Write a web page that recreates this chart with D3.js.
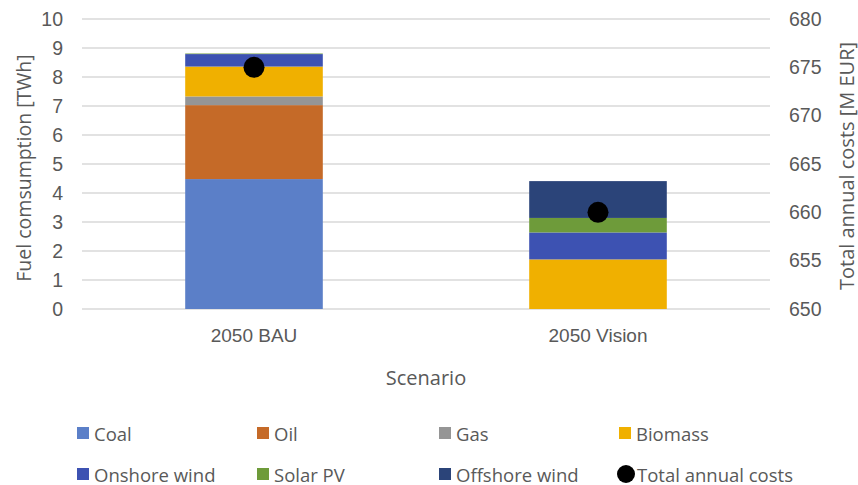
<!DOCTYPE html>
<html>
<head>
<meta charset="utf-8">
<script src="https://cdn.jsdelivr.net/npm/d3@7"></script>
<style>
  html, body { margin: 0; padding: 0; background: #fff; }
  svg { display: block; font-family: "Open Sans", "Noto Sans", sans-serif; }
</style>
</head>
<body>
<svg id="chart" width="858" height="485"></svg>
<script>
// Scenarios on the x axis
const scenarios = ["2050 BAU", "2050 Vision"];

// Fuel consumption per source [TWh], one value per scenario
const fuels = ["Coal", "Oil", "Gas", "Biomass", "Onshore wind", "Solar PV", "Offshore wind"];
const coal = [4.48, 0];
const oil = [2.55, 0];
const gas = [0.30, 0];
const biomass = [1.03, 1.71];
const onshoreWind = [0.43, 0.93];
const solarPV = [0.02, 0.50];
const offshoreWind = [0, 1.27];

// Total annual costs [M EUR] on the secondary axis
const totalCosts = [675, 660];

// Axis ticks
const leftTicks = [0, 1, 2, 3, 4, 5, 6, 7, 8, 9, 10];
const rightTicks = [650, 655, 660, 665, 670, 675, 680];

const fuelColors = ["#5b7fc8", "#c56a28", "#959595", "#f0b000", "#3d52b2", "#6e9b3a", "#2b4479"];

const seriesValues = [coal, oil, gas, biomass, onshoreWind, solarPV, offshoreWind];
const rows = scenarios.map((s, i) => {
  const r = { scenario: s };
  fuels.forEach((f, k) => { r[f] = seriesValues[k][i]; });
  return r;
});

const svg = d3.select("#chart");
const m = { left: 82, right: 770, top: 19, bottom: 309 };

const x = d3.scaleBand().domain(scenarios).range([m.left, m.right])
  .paddingInner(0.6).paddingOuter(0.3);
const y = d3.scaleLinear().domain([0, 10]).range([m.bottom, m.top]);
const y2 = d3.scaleLinear().domain([650, 680]).range([m.bottom, m.top]);

const textColor = "#595959";

// Horizontal gridlines
svg.append("g")
  .selectAll("line").data(leftTicks).join("line")
  .attr("x1", m.left).attr("x2", m.right)
  .attr("y1", d => y(d)).attr("y2", d => y(d))
  .attr("stroke", "#d9d9d9").attr("stroke-width", 1.3);

// Left axis
const leftAxis = svg.append("g")
  .attr("transform", `translate(${m.left - 19},0)`)
  .call(d3.axisLeft(y).tickValues(leftTicks).tickSize(0).tickPadding(0).tickFormat(d3.format("d")));
leftAxis.select(".domain").remove();
leftAxis.selectAll("text").attr("fill", textColor).style("font-size", "19.5px");

// Right axis
const rightAxis = svg.append("g")
  .attr("transform", `translate(${m.right + 19},0)`)
  .call(d3.axisRight(y2).tickValues(rightTicks).tickSize(0).tickPadding(0).tickFormat(d3.format("d")));
rightAxis.select(".domain").remove();
rightAxis.selectAll("text").attr("fill", textColor).style("font-size", "19.5px");

// Category axis labels
const bottomAxis = svg.append("g")
  .attr("transform", `translate(0,${m.bottom})`)
  .call(d3.axisBottom(x).tickSize(0).tickPadding(20));
bottomAxis.select(".domain").remove();
bottomAxis.selectAll("text").attr("fill", textColor).style("font-size", "19px");

// Stacked bars
const stack = d3.stack().keys(fuels)(rows);
svg.append("g")
  .selectAll("g").data(stack).join("g")
  .attr("fill", (d, i) => fuelColors[i])
  .selectAll("rect").data(d => d.filter(p => p[1] - p[0] > 0)).join("rect")
  .attr("x", d => x(d.data.scenario))
  .attr("width", x.bandwidth())
  .attr("y", d => y(d[1]))
  .attr("height", d => y(d[0]) - y(d[1]));

// Total annual cost markers
svg.append("g")
  .selectAll("circle").data(totalCosts).join("circle")
  .attr("cx", (d, i) => x(scenarios[i]) + x.bandwidth() / 2)
  .attr("cy", d => y2(d))
  .attr("r", 10.5)
  .attr("fill", "#000");

// Axis titles
svg.append("text")
  .attr("transform", `translate(23,${(m.top + m.bottom) / 2 + 4}) rotate(-90)`)
  .attr("text-anchor", "middle").attr("dominant-baseline", "central")
  .attr("fill", textColor).style("font-size", "19.5px")
  .text("Fuel comsumption [TWh]");

svg.append("text")
  .attr("transform", `translate(846,${(m.top + m.bottom) / 2 + 2}) rotate(-90)`)
  .attr("text-anchor", "middle").attr("dominant-baseline", "central")
  .attr("fill", textColor).style("font-size", "20px")
  .text("Total annual costs [M EUR]");

svg.append("text")
  .attr("x", (m.left + m.right) / 2).attr("y", 377)
  .attr("text-anchor", "middle").attr("dominant-baseline", "central")
  .attr("fill", textColor).style("font-size", "20px")
  .text("Scenario");

// Legend
const legendItems = fuels.map((f, i) => ({ name: f, color: fuelColors[i], type: "rect" }))
  .concat([{ name: "Total annual costs", color: "#000", type: "circle" }]);
const colX = [77, 257, 439, 619];
const rowY = [433, 474];
const legend = svg.append("g")
  .selectAll("g").data(legendItems).join("g")
  .attr("transform", (d, i) => `translate(${colX[i % 4]},${rowY[Math.floor(i / 4)]})`);
legend.filter(d => d.type === "rect").append("rect")
  .attr("x", 0).attr("y", -6).attr("width", 12).attr("height", 12)
  .attr("fill", d => d.color);
legend.filter(d => d.type === "circle").append("circle")
  .attr("cx", 7).attr("cy", 0).attr("r", 9)
  .attr("fill", d => d.color);
legend.append("text")
  .attr("x", d => d.type === "circle" ? 18 : 17).attr("y", 0)
  .attr("dominant-baseline", "central")
  .attr("fill", textColor).style("font-size", "18.5px")
  .text(d => d.name);
</script>
</body>
</html>
